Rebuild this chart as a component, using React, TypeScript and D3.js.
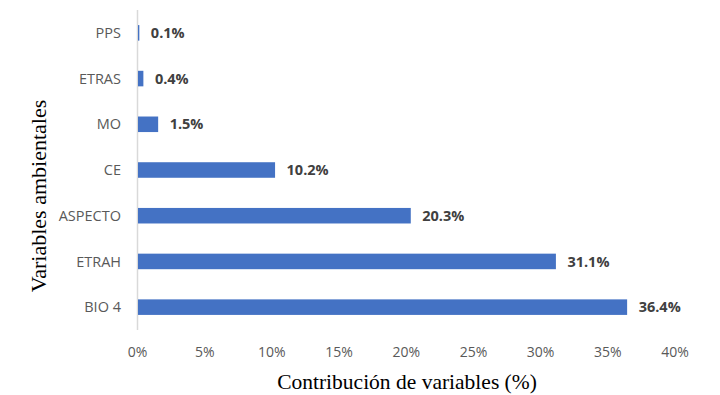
import React, { useEffect, useRef } from 'react';
import * as d3 from 'd3';

const categories = ['PPS', 'ETRAS', 'MO', 'CE', 'ASPECTO', 'ETRAH', 'BIO 4'];
const values = [0.1, 0.4, 1.5, 10.2, 20.3, 31.1, 36.4];
const xTicks = [0, 5, 10, 15, 20, 25, 30, 35, 40];

const App = () => {
    const chartRef = useRef<SVGSVGElement>(null);

    useEffect(() => {
        const svg = d3.select(chartRef.current);
        svg.selectAll('*').remove();

        const x = d3.scaleLinear().domain([0, 40]).range([137.5, 675]);
        const y = d3.scaleBand<string>()
            .domain(categories)
            .range([10, 330])
            .paddingInner(0.66)
            .paddingOuter(0.33);

        // clip for category labels (first one is cut on the left in the original)
        svg.append('clipPath').attr('id', 'catclip')
            .append('rect').attr('x', 57).attr('y', 0).attr('width', 700).attr('height', 395);

        // axis line
        svg.append('line')
            .attr('x1', x(0)).attr('x2', x(0))
            .attr('y1', 10).attr('y2', 330)
            .attr('stroke', '#d9d9d9')
            .attr('stroke-width', 1.5);

        // bars
        svg.selectAll('.bar')
            .data(values)
            .enter().append('rect')
            .attr('class', 'bar')
            .attr('x', x(0) + 0.5)
            .attr('y', (d, i) => y(categories[i])!)
            .attr('width', d => x(d) - x(0))
            .attr('height', y.bandwidth())
            .attr('fill', '#4472c4');

        // value labels
        svg.selectAll('.val')
            .data(values)
            .enter().append('text')
            .attr('x', d => x(d) + 12)
            .attr('y', (d, i) => y(categories[i])! + y.bandwidth() / 2)
            .attr('dy', '0.35em')
            .style('font-family', 'Open Sans, sans-serif')
            .style('font-size', '14.5px')
            .style('font-weight', 'bold')
            .attr('fill', '#404040')
            .text(d => `${d}%`);

        // category labels
        svg.append('g').attr('clip-path', 'url(#catclip)')
            .selectAll('.cat')
            .data(categories)
            .enter().append('text')
            .attr('x', 121)
            .attr('y', d => y(d)! + y.bandwidth() / 2)
            .attr('dy', '0.35em')
            .attr('text-anchor', 'end')
            .style('font-family', 'Open Sans, sans-serif')
            .style('font-size', '14.5px')
            .attr('fill', '#595959')
            .text(d => d);

        // x tick labels
        svg.selectAll('.tick')
            .data(xTicks)
            .enter().append('text')
            .attr('x', d => x(d))
            .attr('y', 352)
            .attr('dy', '0.35em')
            .attr('text-anchor', 'middle')
            .style('font-family', 'Open Sans, sans-serif')
            .style('font-size', '14px')
            .attr('fill', '#595959')
            .text(d => `${d}%`);

        // axis titles
        svg.append('text')
            .attr('x', 407)
            .attr('y', 389)
            .attr('text-anchor', 'middle')
            .style('font-family', 'Liberation Serif, serif')
            .style('font-size', '21.5px')
            .attr('fill', '#000')
            .text('Contribución de variables (%)');

        svg.append('text')
            .attr('transform', 'translate(46,196) rotate(-90)')
            .attr('text-anchor', 'middle')
            .style('font-family', 'Liberation Serif, serif')
            .style('font-size', '22px')
            .attr('fill', '#000')
            .text('Variables ambientales');
    }, []);

    return <svg ref={chartRef} width={720} height={395} style={{ position: 'absolute', left: 0, top: 0 }}></svg>;
};

export default App;
